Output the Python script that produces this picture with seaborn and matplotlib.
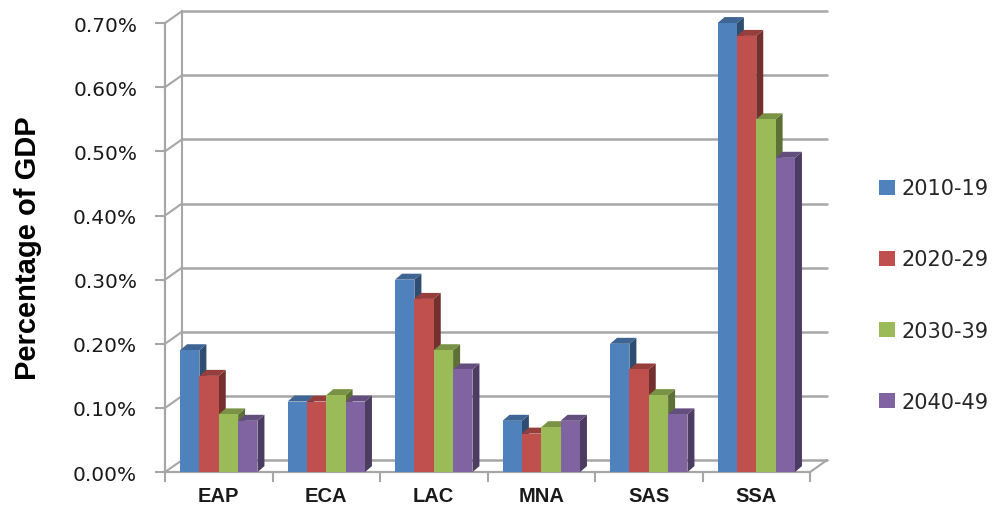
import numpy as np
import pandas as pd
import matplotlib
matplotlib.use("Agg")
import matplotlib.pyplot as plt
import seaborn as sns
from matplotlib.patches import Polygon, Patch
from matplotlib.lines import Line2D
from matplotlib.transforms import IdentityTransform
from matplotlib.ticker import FixedLocator, FuncFormatter

regions = ["EAP", "ECA", "LAC", "MNA", "SAS", "SSA"]
periods = ["2010-19", "2020-29", "2030-39", "2040-49"]
v2010 = [0.19, 0.11, 0.30, 0.08, 0.20, 0.70]
v2020 = [0.15, 0.11, 0.27, 0.06, 0.16, 0.68]
v2030 = [0.09, 0.12, 0.19, 0.07, 0.12, 0.55]
v2040 = [0.08, 0.11, 0.16, 0.08, 0.09, 0.49]
yticks = [0.0, 0.1, 0.2, 0.3, 0.4, 0.5, 0.6, 0.7]

colors = ["#4F81BD", "#C0504D", "#9BBB59", "#8064A2"]

rows = []
for p, vals in zip(periods, [v2010, v2020, v2030, v2040]):
    for r, v in zip(regions, vals):
        rows.append({"region": r, "period": p, "value": v})
df = pd.DataFrame(rows)

sns.set_style("white")
plt.rcParams["font.family"] = ["DejaVu Sans"]

fig = plt.figure(figsize=(10, 5.06), dpi=100)
ax = fig.add_axes([0.165, 0.065, 0.645, 0.8874])

sns.barplot(data=df, x="region", y="value", hue="period", order=regions,
            hue_order=periods, palette=colors, width=0.72, saturation=1,
            legend=False, ax=ax, edgecolor="none", linewidth=0, errorbar=None)

ax.set_xlim(-0.5, 5.5)
ax.set_ylim(0, 0.70)

for s in ["top", "right"]:
    ax.spines[s].set_visible(False)
grey = "#A6A6A6"
for s in ["left", "bottom"]:
    ax.spines[s].set_color(grey)
    ax.spines[s].set_linewidth(1.6)

ax.yaxis.set_major_locator(FixedLocator(yticks))
ax.yaxis.set_major_formatter(FuncFormatter(lambda v, _: f"{v:.2f}%"))
ax.tick_params(axis="y", direction="out", length=7, width=1.5, color=grey,
               labelsize=14.5, labelcolor="#1a1a1a", pad=13, left=True)
ax.tick_params(axis="x", which="major", length=0, pad=10, labelsize=14.5,
               labelcolor="#1a1a1a")
for t in ax.get_xticklabels():
    t.set_fontweight("bold")
    t.set_family("Liberation Sans")
ax.xaxis.set_minor_locator(FixedLocator(np.arange(-0.5, 6.0, 1.0)))
ax.tick_params(axis="x", which="minor", direction="out", length=7, width=1.5,
               color=grey, bottom=True)
ax.set_xlabel("")
ax.set_ylabel("Percentage of GDP", fontsize=21, fontweight="bold",
              family="Liberation Sans", color="black")
ax.yaxis.set_label_coords(-0.19, 0.5)

wdx, wdy = 17, 12
xmin, xmax = ax.get_xlim()
T = ax.transData
ident = IdentityTransform()

def disp(x, y):
    return T.transform((x, y))

for v in yticks:
    p0 = disp(xmin, v)
    p1 = disp(xmax, v)
    fig.add_artist(Line2D([p0[0] + wdx, p1[0] + wdx], [p0[1] + wdy, p1[1] + wdy],
                          transform=ident, color=grey, lw=1.8, zorder=0.5))
    fig.add_artist(Line2D([p0[0], p0[0] + wdx], [p0[1], p0[1] + wdy],
                          transform=ident, color=grey, lw=1.5, zorder=0.5))
pb = disp(xmin, 0)
pt = disp(xmin, 0.70)
fig.add_artist(Line2D([pb[0] + wdx, pt[0] + wdx], [pb[1] + wdy, pt[1] + wdy],
                      transform=ident, color=grey, lw=1.5, zorder=0.5))
pr = disp(xmax, 0)
fig.add_artist(Line2D([pr[0], pr[0] + wdx], [pr[1], pr[1] + wdy],
                      transform=ident, color=grey, lw=1.5, zorder=0.5))

bdx, bdy = 7, 6
bars = sorted([p for p in ax.patches], key=lambda p: p.get_x())
z = 2.0
for b in bars:
    x0, w, h = b.get_x(), b.get_width(), b.get_height()
    if h <= 0:
        continue
    c = np.array(matplotlib.colors.to_rgb(b.get_facecolor()))
    a = disp(x0, 0)
    bb = disp(x0 + w, h)
    X0, Y0, X1, Y1 = a[0], a[1], bb[0], bb[1]
    side = Polygon([[X1, Y0], [X1, Y1], [X1 + bdx, Y1 + bdy], [X1 + bdx, Y0 + bdy]],
                   closed=True, transform=ident, facecolor=c * 0.6, edgecolor="none",
                   zorder=z)
    top = Polygon([[X0, Y1], [X1, Y1], [X1 + bdx, Y1 + bdy], [X0 + bdx, Y1 + bdy]],
                  closed=True, transform=ident, facecolor=c * 0.78, edgecolor="none",
                  zorder=z)
    fig.add_artist(side)
    fig.add_artist(top)
    front = Polygon([[X0, Y0], [X1, Y0], [X1, Y1], [X0, Y1]], closed=True,
                    transform=ident, facecolor=c, edgecolor="none", zorder=z + 0.1)
    fig.add_artist(front)
    z += 0.2

handles = [Patch(facecolor=c, edgecolor="none") for c in colors]
fig.legend(handles, periods, loc="center left", bbox_to_anchor=(0.879, 0.415),
           frameon=False, fontsize=15, labelspacing=2.45, handlelength=0.75,
           handleheight=0.75, handletextpad=0.35, borderpad=0, borderaxespad=0)

fig.savefig("out.png", dpi=100)
